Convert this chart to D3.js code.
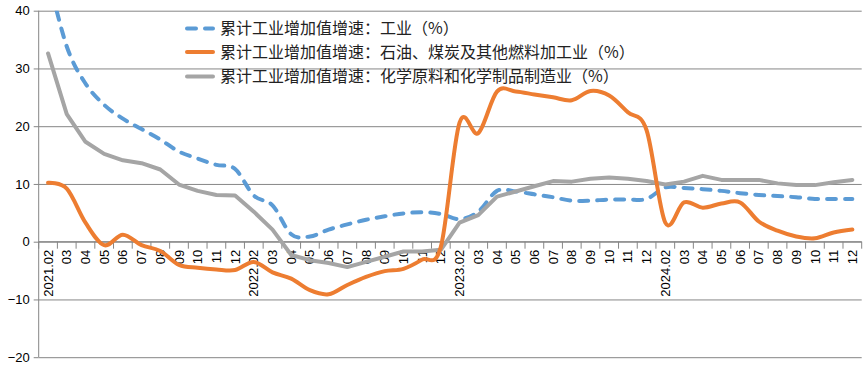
<!DOCTYPE html>
<html>
<head>
<meta charset="utf-8">
<script src="https://cdn.jsdelivr.net/npm/d3@7"></script>
<style>
  body { margin: 0; background: #fff; }
  svg { display: block; }
</style>
</head>
<body>
<svg id="chart" width="865" height="370"></svg>
<script>
// x categories (tick labels)
const categories = [
  "2021.02","03","04","05","06","07","08","09","10","11","12",
  "2022.02","03","04","05","06","07","08","09","10","11","12",
  "2023.02","03","04","05","06","07","08","09","10","11","12",
  "2024.02","03","04","05","06","07","08","09","10","11","12"
];

// 累计工业增加值增速：工业（%）
const industry = [
  46, 33.8, 27.4, 23.7, 21.3, 19.5, 17.7, 15.6, 14.4, 13.3, 12.6,
  8.0, 6.3, 1.3, 0.9, 2.1, 3.0, 3.8, 4.4, 4.9, 5.1, 4.8,
  3.9, 5.2, 8.8, 8.7, 8.2, 7.7, 7.1, 7.1, 7.3, 7.3, 7.4,
  9.4, 9.3, 9.1, 8.8, 8.4, 8.1, 7.9, 7.7, 7.4, 7.4, 7.4
];

// 累计工业增加值增速：石油、煤炭及其他燃料加工业（%）
const petroCoal = [
  10.2, 9.2, 3.3, -0.6, 1.2, -0.6, -1.6, -4.0, -4.5, -4.8, -4.9,
  -3.5, -5.3, -6.4, -8.4, -9.1, -7.5, -6.1, -5.1, -4.7, -3.1, -0.9,
  20.6, 18.8, 26.0, 26.0, 25.5, 25.0, 24.5, 26.1, 25.3, 22.4, 19.3,
  3.3, 6.8, 5.9, 6.6, 6.8, 3.5, 1.9, 0.9, 0.6, 1.6, 2.1
];

// 累计工业增加值增速：化学原料和化学制品制造业（%）
const chemical = [
  32.6, 22.1, 17.3, 15.2, 14.1, 13.6, 12.5, 9.9, 8.8, 8.1, 8.0,
  5.2, 2.1, -2.3, -3.2, -3.7, -4.4, -3.5, -2.6, -1.7, -1.7, -1.4,
  3.3, 4.6, 7.8, 8.7, 9.6, 10.5, 10.4, 10.9, 11.1, 10.9, 10.5,
  9.9, 10.4, 11.4, 10.7, 10.7, 10.7, 10.1, 9.8, 9.8, 10.3, 10.7
];

const yTicks = [-20, -10, 0, 10, 20, 30, 40];

const seriesNames = [
  "累计工业增加值增速：工业（%）",
  "累计工业增加值增速：石油、煤炭及其他燃料加工业（%）",
  "累计工业增加值增速：化学原料和化学制品制造业（%）"
];

const svg = d3.select("#chart");
const plot = { left: 38.7, right: 861.7, top: 10.7, bottom: 357.2 };
const axisColor = "#868686";

const x = d3.scaleBand()
  .domain(d3.range(categories.length))
  .range([plot.left, plot.right])
  .paddingInner(0).paddingOuter(0);
const cx = i => x(i) + x.bandwidth() / 2;

const y = d3.scaleLinear()
  .domain([-20, 40])
  .range([plot.bottom, plot.top]);

// gridlines
const grid = svg.append("g")
  .attr("transform", `translate(${plot.left},0)`)
  .call(d3.axisLeft(y).tickValues(yTicks).tickSize(-(plot.right - plot.left)).tickFormat(""));
grid.select(".domain").remove();
grid.selectAll("line").attr("stroke", axisColor).attr("stroke-width", 1);

// y axis
const yAxis = svg.append("g")
  .attr("transform", `translate(${plot.left},0)`)
  .call(d3.axisLeft(y).tickValues(yTicks).tickSize(5).tickPadding(4).tickFormat(d3.format("d")));
yAxis.select(".domain").attr("stroke", axisColor).attr("d", `M0,${plot.top}V${plot.bottom}`);
yAxis.selectAll("line").attr("stroke", axisColor);
yAxis.selectAll("text")
  .attr("font-family", "'Liberation Sans', Arial, sans-serif")
  .attr("font-size", 13)
  .attr("fill", "#000");

// x axis line at 0 with boundary ticks
const y0 = y(0);
const xAxis = svg.append("g");
xAxis.append("line")
  .attr("x1", plot.left).attr("x2", plot.right)
  .attr("y1", y0).attr("y2", y0)
  .attr("stroke", axisColor);
xAxis.selectAll("line.tick")
  .data(d3.range(categories.length + 1))
  .enter().append("line")
    .attr("class", "tick")
    .attr("x1", i => i < categories.length ? x(i) : plot.right)
    .attr("x2", i => i < categories.length ? x(i) : plot.right)
    .attr("y1", y0).attr("y2", y0 + 7)
    .attr("stroke", axisColor);
xAxis.selectAll("text")
  .data(categories)
  .enter().append("text")
    .attr("transform", (d, i) => `translate(${cx(i)},${y0 + 8}) rotate(-90)`)
    .attr("text-anchor", "end")
    .attr("dy", "0.35em")
    .attr("font-family", "'Liberation Sans', Arial, sans-serif")
    .attr("font-size", 13)
    .attr("fill", "#000")
    .text(d => d);

// clip for the lines
svg.append("clipPath").attr("id", "plotClip")
  .append("rect")
    .attr("x", plot.left).attr("y", plot.top)
    .attr("width", plot.right - plot.left)
    .attr("height", plot.bottom - plot.top);

const lines = svg.append("g").attr("clip-path", "url(#plotClip)");

const smooth = d3.line().x((d, i) => cx(i)).y(d => y(d)).curve(d3.curveCardinal.tension(0));
const straight = d3.line().x((d, i) => cx(i)).y(d => y(d));

const styles = [
  { color: "#5B9BD5", dash: "9,9" },
  { color: "#ED7D31", dash: null },
  { color: "#A5A5A5", dash: null }
];

lines.append("path")
  .attr("d", smooth(industry))
  .attr("fill", "none")
  .attr("stroke", styles[0].color)
  .attr("stroke-width", 4)
  .attr("stroke-linecap", "round")
  .attr("stroke-dasharray", styles[0].dash);

lines.append("path")
  .attr("d", straight(chemical))
  .attr("fill", "none")
  .attr("stroke", styles[2].color)
  .attr("stroke-width", 4)
  .attr("stroke-linejoin", "round")
  .attr("stroke-linecap", "round");

lines.append("path")
  .attr("d", smooth(petroCoal))
  .attr("fill", "none")
  .attr("stroke", styles[1].color)
  .attr("stroke-width", 4)
  .attr("stroke-linejoin", "round")
  .attr("stroke-linecap", "round");

// legend
const legend = svg.append("g");
seriesNames.forEach((name, i) => {
  const row = legend.append("g")
    .attr("transform", `translate(0,${[28.5, 52, 76.5][i]})`);
  row.append("line")
    .attr("x1", 187).attr("x2", 213)
    .attr("stroke", styles[i].color)
    .attr("stroke-width", 4)
    .attr("stroke-linecap", "round")
    .attr("stroke-dasharray", styles[i].dash);
  row.append("text")
    .attr("x", 220)
    .attr("dy", "0.36em")
    .attr("font-family", "'Noto Sans CJK SC', sans-serif")
    .attr("font-size", 16)
    .attr("fill", "#222")
    .text(name);
});
</script>
</body>
</html>
